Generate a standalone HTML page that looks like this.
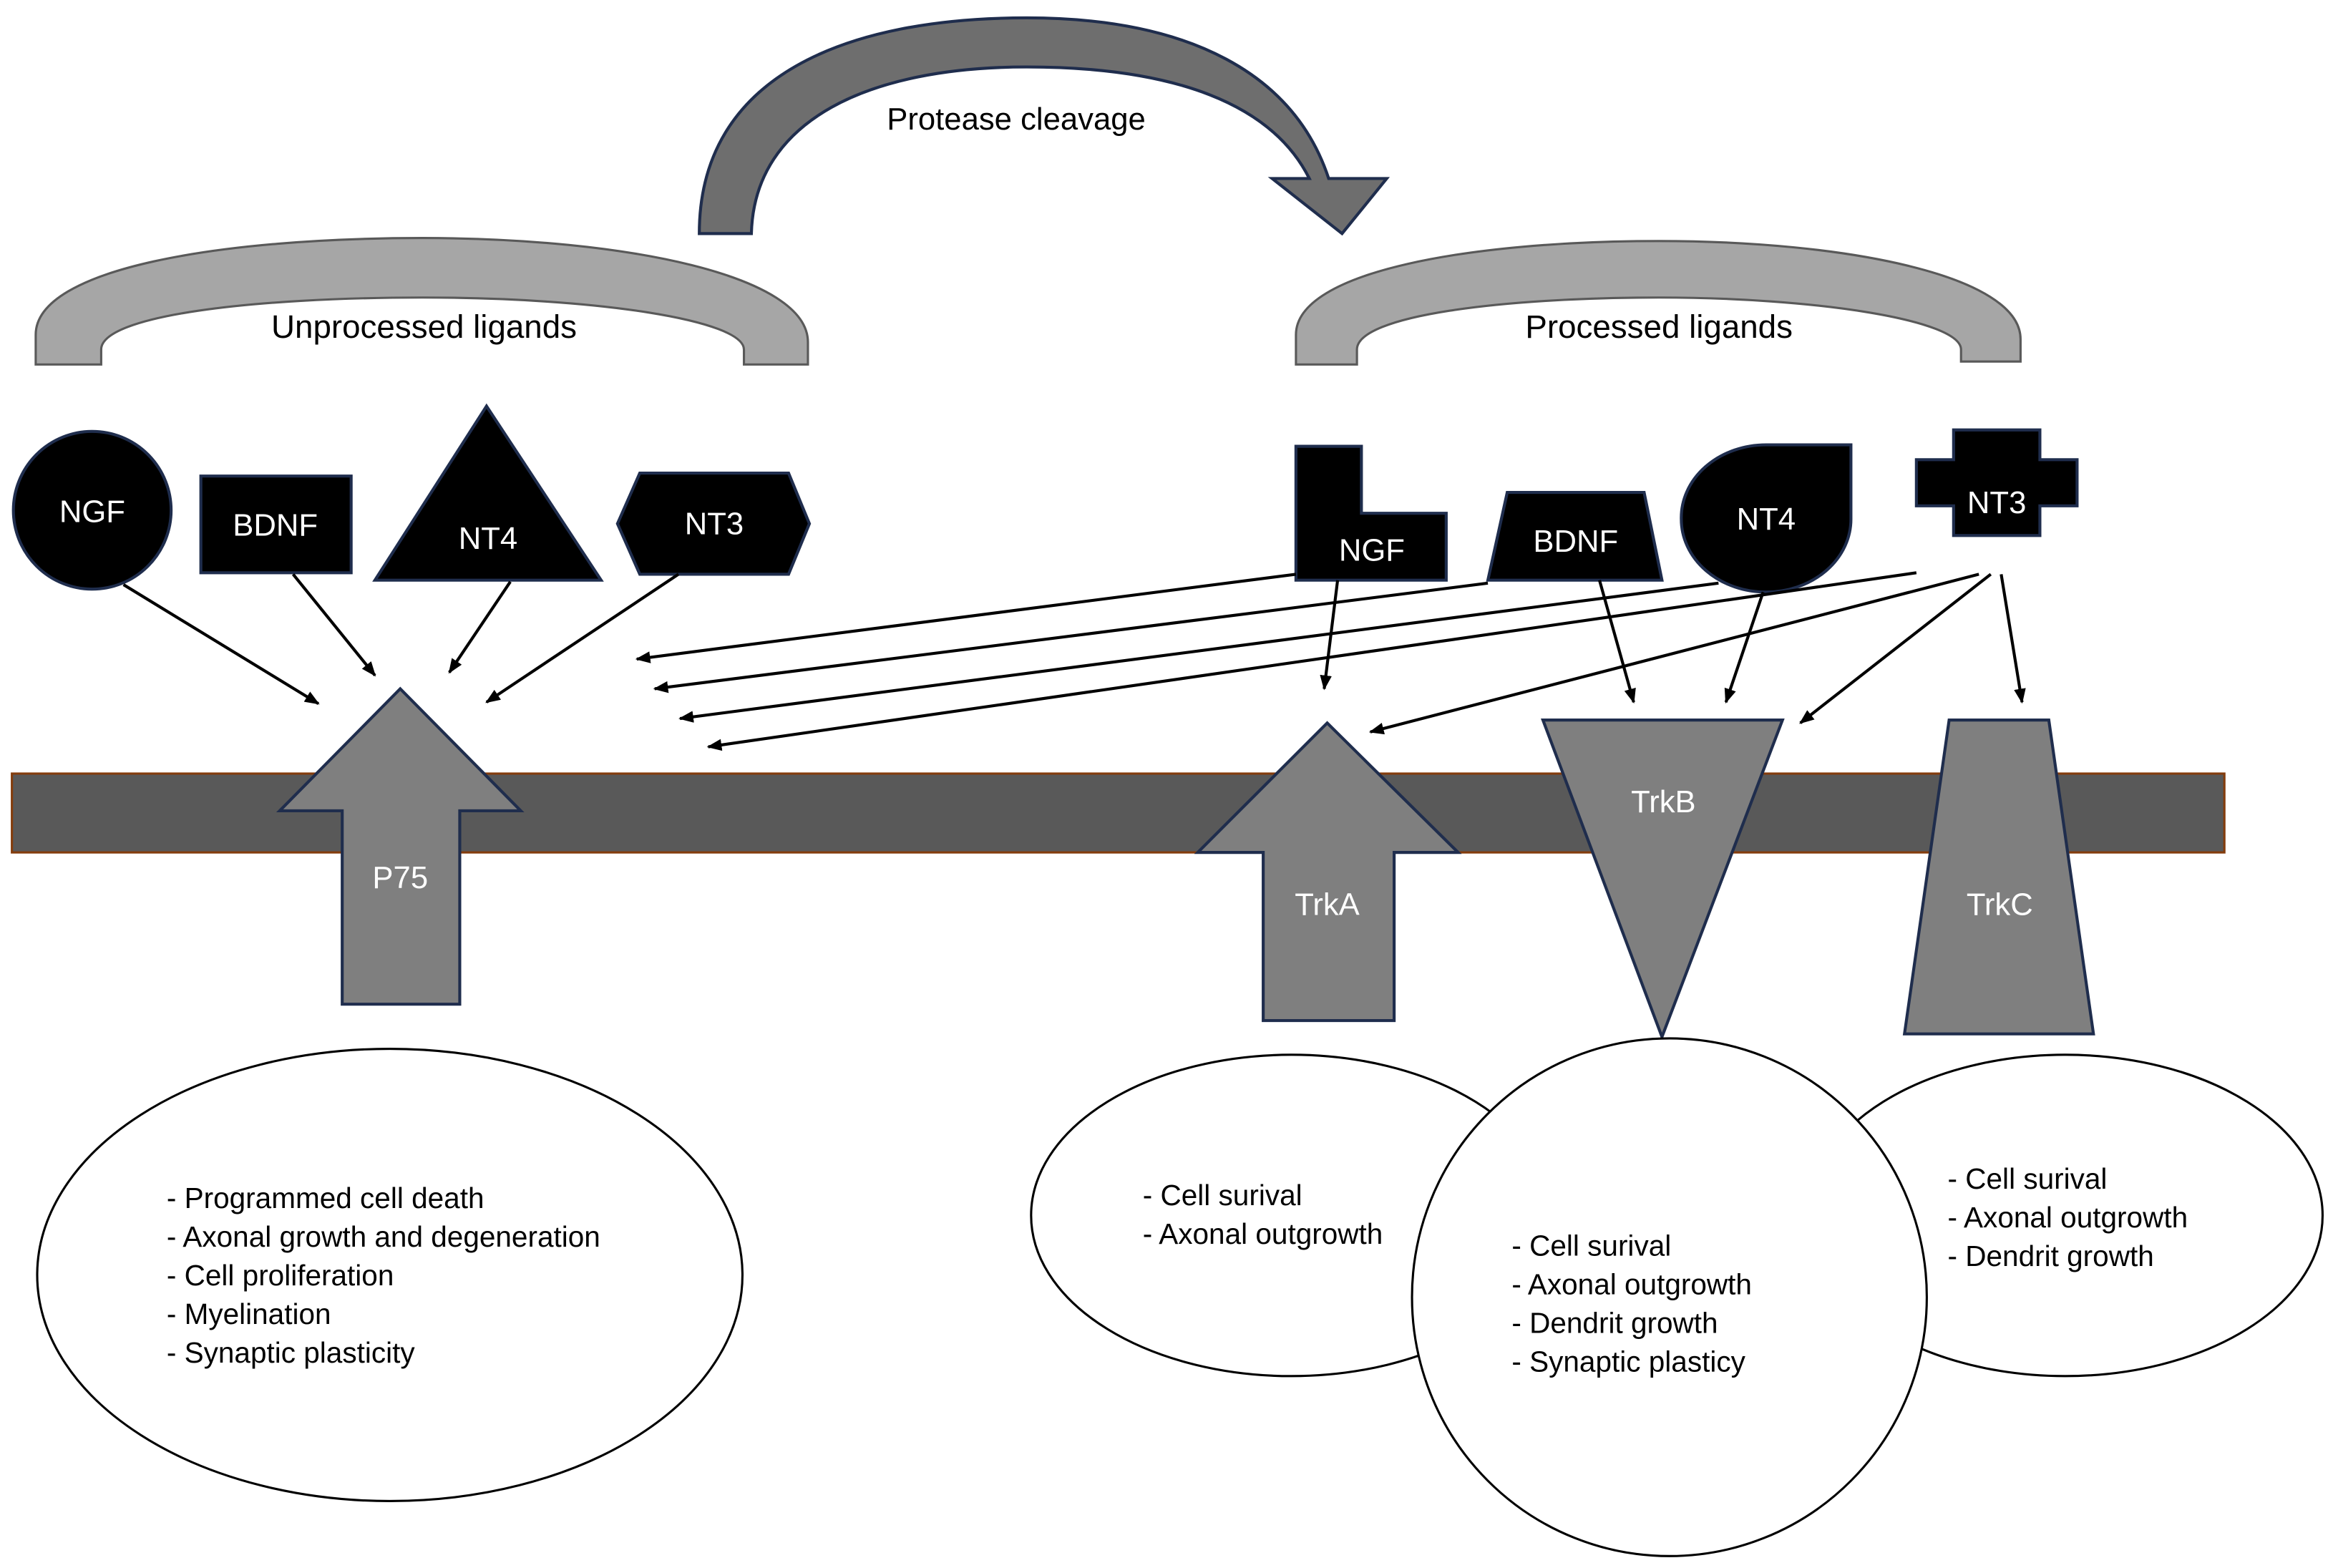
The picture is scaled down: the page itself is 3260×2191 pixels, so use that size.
<!DOCTYPE html>
<html><head><meta charset="utf-8"><style>html,body{margin:0;padding:0;background:#fff}svg{display:block}</style></head>
<body>
<svg width="3260" height="2191" viewBox="0 0 1568 1054" preserveAspectRatio="none" xmlns="http://www.w3.org/2000/svg" font-family="Liberation Sans, sans-serif">
<defs><marker id="ah" markerWidth="10" markerHeight="8" refX="9" refY="4" orient="auto" markerUnits="userSpaceOnUse"><path d="M0,0 L10,4 L0,8Z" fill="#000"/></marker></defs>
<rect width="1568" height="1054" fill="#fff"/>
<path d="M470,157 C470,50 570,12 690,12 C800,12 870,50 893,120 L932,120 L902,157 L855,120 L880,120 C855,70 790,45 690,45 C585,45 507,80 505,157 Z" fill="#6e6e6e" stroke="#1f2d4d" stroke-width="2"/>
<text x="683" y="87" font-size="21" text-anchor="middle" fill="#000">Protease cleavage</text>
<path d="M24,245 L24,225 C24,180 150,160 284,160 C420,160 543,185 543,230 L543,245 L500,245 L500,235 C500,215 400,200 284,200 C170,200 68,212 68,235 L68,245 Z" fill="#a6a6a6" stroke="#595959" stroke-width="1.5"/>
<text x="285" y="227" font-size="22" text-anchor="middle">Unprocessed ligands</text>
<path d="M871,245 L871,225 C871,182 990,162 1115,162 C1240,162 1358,185 1358,228 L1358,243 L1318,243 L1318,235 C1318,215 1220,200 1115,200 C1010,200 912,212 912,235 L912,245 Z" fill="#a6a6a6" stroke="#595959" stroke-width="1.5"/>
<text x="1115" y="227" font-size="22" text-anchor="middle">Processed ligands</text>
<rect x="8" y="520" width="1487" height="53" fill="#595959" stroke="#843c0c" stroke-width="1.5"/>
<g stroke="#1f2d4d" stroke-width="2" fill="#000">
<circle cx="62" cy="343" r="53"/>
<rect x="135" y="320" width="101" height="65"/>
<path d="M327,273 L404,390 L252,390Z"/>
<path d="M430,318 L530,318 L544,352 L530,386 L430,386 L415,352Z"/>
<path d="M871,300 L915,300 L915,345 L972,345 L972,390 L871,390Z"/>
<path d="M1013,331 L1105,331 L1117,390 L1000,390Z"/>
<path d="M1187,299 L1244,299 L1244,349 A57,49 0 0 1 1187,398 A57,49 0 0 1 1130,349 A57,49 0 0 1 1187,299Z"/>
<path d="M1313,289 L1371,289 L1371,309 L1396,309 L1396,340 L1371,340 L1371,360 L1313,360 L1313,340 L1288,340 L1288,309 L1313,309Z"/>
</g>
<g fill="#fff" font-size="21" text-anchor="middle">
<text x="62" y="351">NGF</text><text x="185" y="360">BDNF</text><text x="328" y="369">NT4</text><text x="480" y="359">NT3</text>
<text x="922" y="377">NGF</text><text x="1059" y="371">BDNF</text><text x="1187" y="356">NT4</text><text x="1342" y="345">NT3</text>
</g>
<g stroke="#000" stroke-width="2" marker-end="url(#ah)">
<line x1="83" y1="393" x2="214" y2="473"/><line x1="197" y1="386" x2="252" y2="454"/>
<line x1="343" y1="391" x2="302" y2="452"/><line x1="456" y1="386" x2="327" y2="472"/>
<line x1="871" y1="386" x2="428" y2="443"/><line x1="1000" y1="392" x2="440" y2="463"/>
<line x1="1155" y1="392" x2="457" y2="483"/><line x1="1288" y1="385" x2="476" y2="502"/>
<line x1="899" y1="390" x2="890" y2="463"/><line x1="1075" y1="390" x2="1098" y2="472"/>
<line x1="1185" y1="398" x2="1160" y2="472"/><line x1="1330" y1="386" x2="921" y2="492"/>
<line x1="1338" y1="386" x2="1210" y2="486"/><line x1="1345" y1="386" x2="1359" y2="472"/>
</g>
<g fill="#7f7f7f" stroke="#1f2d4d" stroke-width="2">
<path d="M269,463 L350,545 L309,545 L309,675 L230,675 L230,545 L188,545Z"/>
<path d="M892,486 L980,573 L937,573 L937,686 L849,686 L849,573 L805,573Z"/>
<path d="M1037,484 L1198,484 L1117,697Z"/>
<path d="M1310,484 L1377,484 L1407,695 L1280,695Z"/>
</g>
<g fill="#fff" font-size="21" text-anchor="middle">
<text x="269" y="597">P75</text><text x="892" y="615">TrkA</text><text x="1118" y="546">TrkB</text><text x="1344" y="615">TrkC</text>
</g>
<g fill="#fff" stroke="#000" stroke-width="1.5">
<ellipse cx="262" cy="857" rx="237" ry="152"/>
<ellipse cx="868" cy="817" rx="175" ry="108"/>
<ellipse cx="1388" cy="817" rx="173" ry="108"/>
<ellipse cx="1122" cy="872" rx="173" ry="174"/>
</g>
<g font-size="19.5" fill="#000">
<text x="112" y="812">- Programmed cell death</text><text x="112" y="838">- Axonal growth and degeneration</text><text x="112" y="864">- Cell proliferation</text><text x="112" y="890">- Myelination</text><text x="112" y="916">- Synaptic plasticity</text>
<text x="768" y="810">- Cell surival</text><text x="768" y="836">- Axonal outgrowth</text>
<text x="1016" y="844">- Cell surival</text><text x="1016" y="870">- Axonal outgrowth</text><text x="1016" y="896">- Dendrit growth</text><text x="1016" y="922">- Synaptic plasticy</text>
<text x="1309" y="799">- Cell surival</text><text x="1309" y="825">- Axonal outgrowth</text><text x="1309" y="851">- Dendrit growth</text>
</g>
</svg>
</body></html>
